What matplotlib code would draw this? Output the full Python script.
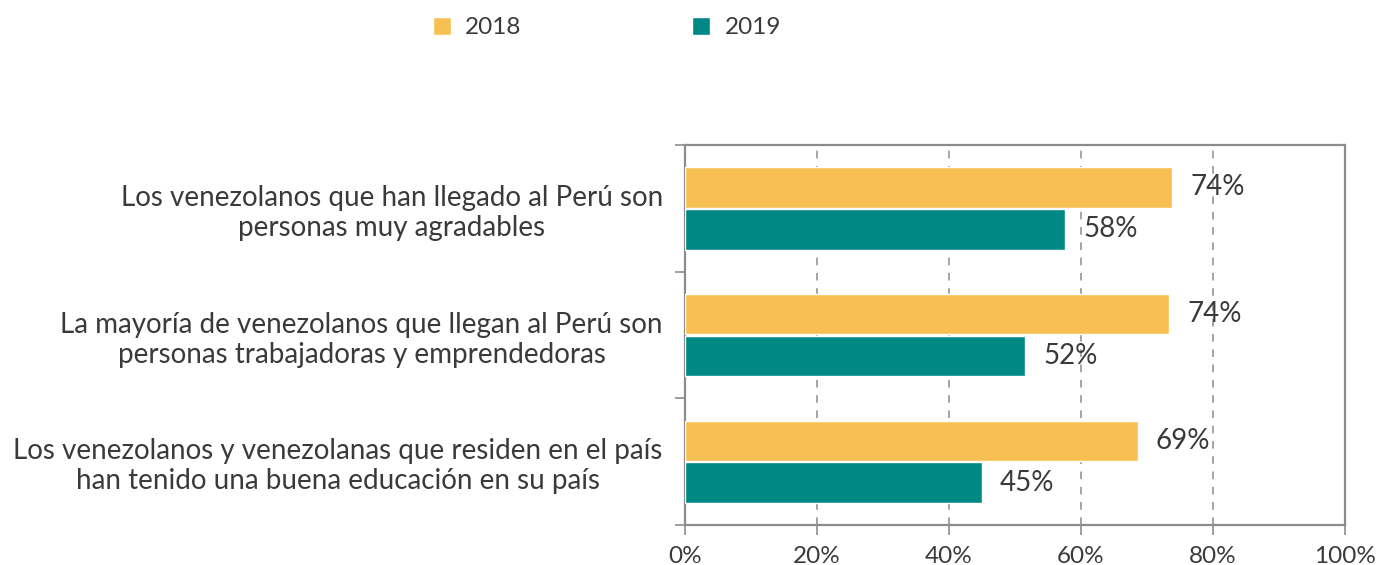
import numpy as np
import matplotlib.pyplot as plt
from matplotlib.ticker import FixedLocator, PercentFormatter

plt.rcParams['font.family'] = ['Lato', 'DejaVu Sans']

categorias = [
    'Los venezolanos que han llegado al Perú son\npersonas muy agradables',
    'La mayoría de venezolanos que llegan al Perú son\npersonas trabajadoras y emprendedoras',
    'Los venezolanos y venezolanas que residen en el país\nhan tenido una buena educación en su país',
]
valores_2018 = [73.8, 73.4, 68.6]
valores_2019 = [57.6, 51.5, 45.0]
etiquetas_2018 = ['74%', '74%', '69%']
etiquetas_2019 = ['58%', '52%', '45%']

color_2018 = '#F8BF52'
color_2019 = '#008884'
texto = '#3a3a3a'
gris = '#8c8c8c'

fig = plt.figure(figsize=(13.76, 5.65), dpi=100)
ax = fig.add_axes([685/1376, 1 - 525/565, 660/1376, 380/565])

y = np.arange(len(categorias))
alto = 0.32
off = 0.165
b1 = ax.barh(y - off, valores_2018, height=alto, color=color_2018,
             edgecolor='white', linewidth=1, label='2018', zorder=3)
b2 = ax.barh(y + off, valores_2019, height=alto, color=color_2019,
             edgecolor='white', linewidth=1, label='2019', zorder=3)

for barras, etiquetas in ((b1, etiquetas_2018), (b2, etiquetas_2019)):
    for rect, et in zip(barras, etiquetas):
        ax.annotate(et, (rect.get_width(), rect.get_y() + rect.get_height() / 2),
                    xytext=(13, 0), textcoords='offset points', va='center',
                    ha='left', fontsize=20, color=texto, zorder=4)

ax.set_xlim(0, 100)
ax.set_ylim(2.5, -0.5)
ax.xaxis.set_major_locator(FixedLocator([0, 20, 40, 60, 80, 100]))
ax.xaxis.set_major_formatter(PercentFormatter(decimals=0))
ax.set_yticks(y)
ax.set_yticklabels(categorias, fontsize=20, color=texto,
                   multialignment='center', linespacing=1.2)
ax.yaxis.set_minor_locator(FixedLocator([-0.5, 0.5, 1.5, 2.5]))
ax.tick_params(axis='y', which='major', length=0, pad=16)
ax.tick_params(axis='y', which='minor', length=7, color=gris, width=1.2)
ax.tick_params(axis='x', length=7, color=gris, width=1.2, pad=8,
               labelsize=17.5, labelcolor=texto)

ax.grid(axis='x', linestyle=(0, (5, 5)), color=gris, linewidth=1.1, zorder=1)
for s in ax.spines.values():
    s.set_color(gris)
    s.set_linewidth(1.6)

fig.legend(handles=[b1, b2], labels=['2018', '2019'], loc='center',
           bbox_to_anchor=(0.441, 0.951), ncol=2, frameon=False,
           fontsize=17.5, handlelength=0.75, handleheight=0.75,
           handletextpad=0.6, columnspacing=7.0, labelcolor=texto)

fig.savefig('out.png', dpi=100)
